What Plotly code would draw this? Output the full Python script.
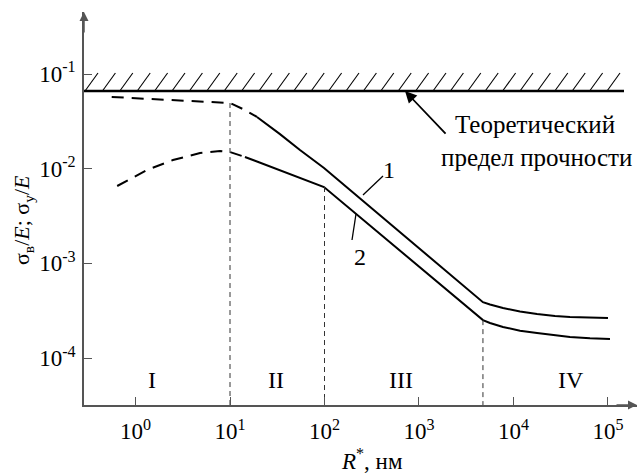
import math
import plotly.graph_objects as go

# ---------------- data ----------------
# curve 1 (upper): dashed extrapolated part, then measured solid part
r1_dash = [0.56, 1.42, 3.77, 10, 14.4, 19.3]
s1_dash = [0.0572, 0.0544, 0.0519, 0.0494, 0.0417, 0.0352]
r1_solid = [19.3, 33.8, 55, 98.8, 4750, 5640, 7740, 11720, 17740, 27500, 39600, 64500, 100000]
s1_solid = [0.0352, 0.0232, 0.01574, 0.01016, 3.9e-4, 3.68e-4, 3.38e-4, 3.10e-4, 2.92e-4,
            2.78e-4, 2.72e-4, 2.67e-4, 2.65e-4]

# curve 2 (lower)
r2_dash = [0.64, 0.83, 1.32, 2.49, 4.82, 7.84, 10, 14.4]
s2_dash = [6.57e-3, 7.6e-3, 9.7e-3, 0.01235, 0.01466, 0.01538, 0.0150, 0.0133]
r2_solid = [14.4, 55, 98.8, 4750, 5640, 7740, 11720, 17740, 27500, 39600, 64500, 105000]
s2_solid = [0.0133, 7.98e-3, 6.41e-3, 2.52e-4, 2.35e-4, 2.13e-4, 1.95e-4, 1.84e-4, 1.73e-4,
            1.67e-4, 1.62e-4, 1.59e-4]

# theoretical strength limit
theor_limit = 0.0661

# region boundaries (vertical dashed lines) and where they start (on a curve)
bound_r = [10, 100, 4750]
bound_top = [0.0494, 6.41e-3, 2.52e-4]

# region labels
region_names = ["I", "II", "III", "IV"]
region_r = [1.5, 30.7, 645, 40500]
region_s = 5.9e-5

x_tickvals = [1, 10, 100, 1000, 10000, 100000]
x_ticktext = ["10<sup>0</sup>", "10<sup>1</sup>", "10<sup>2</sup>", "10<sup>3</sup>",
              "10<sup>4</sup>", "10<sup>5</sup>"]
y_tickvals = [1e-4, 1e-3, 1e-2, 1e-1]
y_ticktext = ["10<sup>-4</sup>", "10<sup>-3</sup>", "10<sup>-2</sup>", "10<sup>-1</sup>"]

# ---------------- layout constants ----------------
W, H = 640, 473
ML, MR, MT, MB = 84, 3, 12, 68
XR = [-0.545, 5.307]
YR = [-4.495, -0.345]
FONT = "Liberation Serif, DejaVu Serif, serif"
PW, PH = W - ML - MR, H - MT - MB


def px2paper(px, py):
    return (px - ML) / PW, (H - MB - py) / PH


fig = go.Figure()

DASH = dict(color="black", width=2, dash="12px,8px")
SOLID = dict(color="black", width=2)

fig.add_trace(go.Scatter(x=r1_dash, y=s1_dash, mode="lines", line=DASH, hoverinfo="skip"))
fig.add_trace(go.Scatter(x=r2_dash, y=s2_dash, mode="lines", line=DASH, hoverinfo="skip"))
fig.add_trace(go.Scatter(x=r1_solid, y=s1_solid, mode="lines", line=SOLID, hoverinfo="skip"))
fig.add_trace(go.Scatter(x=r2_solid, y=s2_solid, mode="lines", line=SOLID, hoverinfo="skip"))

# vertical boundary lines
ybot = 10 ** YR[0]
vx, vy = [], []
for r, t in zip(bound_r, bound_top):
    vx += [r, r, None]
    vy += [t, ybot, None]
fig.add_trace(go.Scatter(x=vx, y=vy, mode="lines",
                         line=dict(color="#333", width=1, dash="5px,4px"), hoverinfo="skip"))

# theoretical limit line with hatching
xl0 = 10 ** XR[0]
xl1 = 10 ** (XR[0] + (624 - ML) / PW * (XR[1] - XR[0]))
fig.add_trace(go.Scatter(x=[xl0, xl1], y=[theor_limit, theor_limit], mode="lines",
                         line=dict(color="black", width=2.5), hoverinfo="skip"))
dec_per_px = (XR[1] - XR[0]) / PW
hx, hy = [], []
top = theor_limit * 10 ** (18 / PH * (YR[1] - YR[0]))
lx = XR[0] + 1 * dec_per_px
while lx + 13 * dec_per_px <= math.log10(xl1) + 1e-9:
    hx += [10 ** lx, 10 ** (lx + 13 * dec_per_px), None]
    hy += [theor_limit, top, None]
    lx += 17.4 * dec_per_px
fig.add_trace(go.Scatter(x=hx, y=hy, mode="lines",
                         line=dict(color="black", width=1.1), hoverinfo="skip"))

C = dict(xanchor="center", yanchor="middle", showarrow=False)
ann = []
# region labels
for name, r in zip(region_names, region_r):
    ann.append(dict(x=math.log10(r), y=math.log10(region_s), xref="x", yref="y",
                    text=name, font=dict(size=24), **C))

# arrow to theoretical limit
ann.append(dict(x=math.log10(711), y=math.log10(theor_limit), xref="x", yref="y",
                ax=42, ay=44, axref="pixel", ayref="pixel", text="", showarrow=True,
                arrowhead=2, arrowsize=1.3, arrowwidth=1.8, arrowcolor="black"))


def label(px, py, text, size=24, **kw):
    tx, ty = px2paper(px, py)
    d = dict(x=tx, y=ty, xref="paper", yref="paper", text=text, font=dict(size=size), **C)
    d.update(kw)
    ann.append(d)


label(535, 125, "Теоретический", size=25)
label(536, 157, "предел прочности", size=25)
label(389, 170, "1")
label(360, 257, "2")
label(372, 459, "<i>R</i><sup>*</sup>, нм", size=23)
label(23, 220, "σ<sub>в</sub>/<i>E</i>; σ<sub>у</sub>/<i>E</i>", size=22, textangle=-90)

# axis arrows
ann.append(dict(x=0, y=1, xref="paper", yref="paper", ax=0, ay=22, text="", showarrow=True,
                arrowhead=2, arrowsize=1.2, arrowwidth=1.5, arrowcolor="#555"))
ann.append(dict(x=1, y=0, xref="paper", yref="paper", ax=-22, ay=0, text="", showarrow=True,
                arrowhead=2, arrowsize=1.2, arrowwidth=1.5, arrowcolor="#555"))

shapes = []
for (a, b) in [((363, 195), (383, 176)), ((356, 214), (352, 240))]:
    x0, y0 = px2paper(*a)
    x1, y1 = px2paper(*b)
    shapes.append(dict(type="line", xref="paper", yref="paper", x0=x0, y0=y0, x1=x1, y1=y1,
                       line=dict(color="black", width=1.3)))

fig.update_layout(
    width=W, height=H, margin=dict(l=ML, r=MR, t=MT, b=MB, autoexpand=False),
    plot_bgcolor="white", paper_bgcolor="white", showlegend=False,
    font=dict(family=FONT, size=23, color="black"),
    annotations=ann, shapes=shapes,
    xaxis=dict(type="log", range=XR, tickvals=x_tickvals, ticktext=x_ticktext,
               ticks="inside", ticklen=8, tickwidth=1.3, tickcolor="#555",
               showline=True, linecolor="#555", linewidth=1.5, showgrid=False,
               zeroline=False, ticklabelstandoff=5),
    yaxis=dict(type="log", range=YR, tickvals=y_tickvals, ticktext=y_ticktext,
               ticks="inside", ticklen=8, tickwidth=1.3, tickcolor="#555",
               showline=True, linecolor="#555", linewidth=1.5, showgrid=False,
               zeroline=False, ticklabelstandoff=2),
)

fig.write_html("out.html", config={"displayModeBar": False},
               post_script="document.body.style.margin='0';")
